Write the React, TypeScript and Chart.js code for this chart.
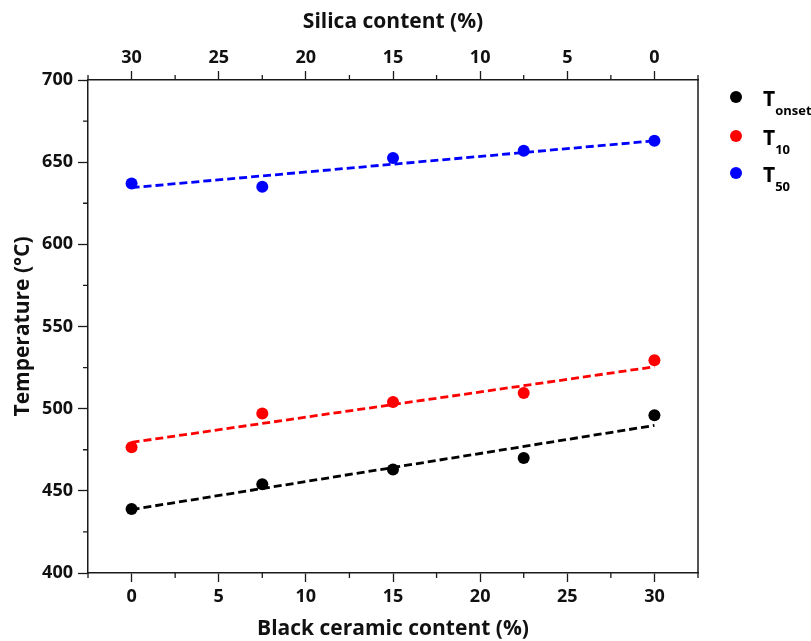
import React, { useEffect, useRef } from "react";
import { Chart, registerables } from "chart.js";

Chart.register(...registerables);

const blackCeramic = [0, 7.5, 15, 22.5, 30];
const tOnset = [439, 454, 463, 470, 496];
const t10 = [476.5, 497, 504, 509.5, 529.5];
const t50 = [637, 635, 652.5, 657, 663];

const fitX = [0, 30];
const fitOnset = [438.6, 489.8];
const fit10 = [479.5, 525.5];
const fit50 = [634.5, 663];

const legendItems = [
  { main: "T", sub: "onset", color: "#000000" },
  { main: "T", sub: "10", color: "#ff0000" },
  { main: "T", sub: "50", color: "#0000ff" },
];

const FONT = "'Open Sans', Lato, sans-serif";
const AXIS_COLOR = "#1a1a1a";

const toPts = (xs: number[], ys: number[]) => xs.map((x, i) => ({ x, y: ys[i] }));

const isMajorX = (v: number) => Math.abs(v % 5) < 1e-6 && v >= 0 && v <= 30;
const isMajorY = (v: number) => Math.abs(v % 50) < 1e-6;

const customPlugin = {
  id: "custom",
  afterDraw(chart: any) {
    const ctx = chart.ctx;
    const area = chart.chartArea;
    ctx.save();
    // right frame
    ctx.strokeStyle = AXIS_COLOR;
    ctx.lineWidth = 1.5;
    ctx.beginPath();
    ctx.moveTo(area.right, area.top);
    ctx.lineTo(area.right, area.bottom);
    ctx.stroke();

    // minor ticks
    const minorLen = 5;
    const xs = chart.scales.x;
    const x2 = chart.scales.x2;
    const ys = chart.scales.y;
    ctx.lineWidth = 1.3;
    ctx.beginPath();
    xs.ticks.forEach((t: any) => {
      if (!isMajorX(t.value)) {
        const p = xs.getPixelForValue(t.value);
        ctx.moveTo(p, area.bottom);
        ctx.lineTo(p, area.bottom + minorLen);
      }
    });
    x2.ticks.forEach((t: any) => {
      if (!isMajorX(t.value)) {
        const p = x2.getPixelForValue(t.value);
        ctx.moveTo(p, area.top);
        ctx.lineTo(p, area.top - minorLen);
      }
    });
    ys.ticks.forEach((t: any) => {
      if (!isMajorY(t.value)) {
        const p = ys.getPixelForValue(t.value);
        ctx.moveTo(area.left, p);
        ctx.lineTo(area.left - minorLen, p);
      }
    });
    ctx.stroke();

    // legend
    const baseY = [97, 136, 173];
    legendItems.forEach((it, i) => {
      const cy = baseY[i];
      ctx.fillStyle = it.color;
      ctx.beginPath();
      ctx.arc(736, cy, 6, 0, Math.PI * 2);
      ctx.fill();
      ctx.fillStyle = "#000";
      ctx.textBaseline = "alphabetic";
      ctx.textAlign = "left";
      ctx.font = `bold 21px ${FONT}`;
      ctx.fillText(it.main, 763, cy + 9);
      const w = ctx.measureText(it.main).width;
      ctx.font = `bold 13px ${FONT}`;
      ctx.fillText(it.sub, 763 + w, cy + 18);
    });
    ctx.restore();
  },
};

export default function App() {
  const ref = useRef<HTMLCanvasElement | null>(null);

  useEffect(() => {
    if (!ref.current) return;
    const tickFont = { family: FONT, size: 18, weight: "bold" as const };
    const titleFont = { family: FONT, size: 21, weight: "bold" as const };

    const chart = new Chart(ref.current, {
      type: "scatter",
      data: {
        datasets: [
          {
            label: "fitOnset",
            data: toPts(fitX, fitOnset),
            showLine: true,
            borderColor: "#000000",
            borderWidth: 2.8,
            borderDash: [8, 4],
            pointRadius: 0,
          },
          {
            label: "fit10",
            data: toPts(fitX, fit10),
            showLine: true,
            borderColor: "#ff0000",
            borderWidth: 2.8,
            borderDash: [8, 4],
            pointRadius: 0,
          },
          {
            label: "fit50",
            data: toPts(fitX, fit50),
            showLine: true,
            borderColor: "#0000ff",
            borderWidth: 2.8,
            borderDash: [8, 4],
            pointRadius: 0,
          },
          {
            label: "Tonset",
            data: toPts(blackCeramic, tOnset),
            backgroundColor: "#000000",
            borderWidth: 0,
            pointRadius: 6,
          },
          {
            label: "T10",
            data: toPts(blackCeramic, t10),
            backgroundColor: "#ff0000",
            borderWidth: 0,
            pointRadius: 6,
          },
          {
            label: "T50",
            data: toPts(blackCeramic, t50),
            backgroundColor: "#0000ff",
            borderWidth: 0,
            pointRadius: 6,
          },
        ],
      },
      options: {
        animation: false,
        responsive: true,
        maintainAspectRatio: false,
        layout: { padding: { left: 0, right: 113, top: 0, bottom: 0 } },
        plugins: {
          legend: { display: false },
          tooltip: { enabled: false },
        },
        scales: {
          x: {
            type: "linear",
            position: "bottom",
            min: -2.5,
            max: 32.5,
            afterFit: (s: any) => {
              s.height = 68;
            },
            border: { color: AXIS_COLOR, width: 1.5 },
            grid: {
              drawOnChartArea: false,
              tickLength: 9,
              tickWidth: 1.3,
              tickColor: (c: any) => (c.tick && isMajorX(c.tick.value) ? AXIS_COLOR : "rgba(0,0,0,0)"),
            },
            ticks: {
              stepSize: 2.5,
              autoSkip: false,
              maxRotation: 0,
              padding: 4,
              color: "#111",
              font: tickFont,
              callback: (v: any) => (isMajorX(Number(v)) ? String(v) : ""),
            },
            title: {
              display: true,
              text: "Black ceramic content (%)",
              color: "#111",
              font: titleFont,
              padding: { top: 0, bottom: -1 },
            },
          },
          x2: {
            type: "linear",
            position: "top",
            reverse: true,
            min: -2.5,
            max: 32.5,
            afterFit: (s: any) => {
              s.height = 80;
            },
            border: { color: AXIS_COLOR, width: 1.5 },
            grid: {
              drawOnChartArea: false,
              tickLength: 9,
              tickWidth: 1.3,
              tickColor: (c: any) => (c.tick && isMajorX(c.tick.value) ? AXIS_COLOR : "rgba(0,0,0,0)"),
            },
            ticks: {
              stepSize: 2.5,
              autoSkip: false,
              maxRotation: 0,
              padding: 2,
              color: "#111",
              font: tickFont,
              callback: (v: any) => (isMajorX(Number(v)) ? String(v) : ""),
            },
            title: {
              display: true,
              text: "Silica content (%)",
              color: "#111",
              font: titleFont,
              padding: { top: 9, bottom: 0 },
            },
          },
          y: {
            type: "linear",
            position: "left",
            min: 400,
            max: 700,
            afterFit: (s: any) => {
              s.width = 88;
            },
            border: { color: AXIS_COLOR, width: 1.5 },
            grid: {
              drawOnChartArea: false,
              tickLength: 10,
              tickWidth: 1.3,
              tickColor: (c: any) => (c.tick && isMajorY(c.tick.value) ? AXIS_COLOR : "rgba(0,0,0,0)"),
            },
            ticks: {
              stepSize: 25,
              autoSkip: false,
              padding: 5,
              color: "#111",
              font: tickFont,
              callback: (v: any) => (isMajorY(Number(v)) ? String(v) : ""),
            },
            title: {
              display: true,
              text: "Temperature (°C)",
              color: "#111",
              font: titleFont,
              padding: { top: 10, bottom: 0 },
            },
          },
        },
      },
      plugins: [customPlugin],
    });
    return () => chart.destroy();
  }, []);

  return (
    <div style={{ position: "absolute", left: 0, top: 0, width: 811, height: 641, background: "#fff" }}>
      <canvas ref={ref} />
    </div>
  );
}
